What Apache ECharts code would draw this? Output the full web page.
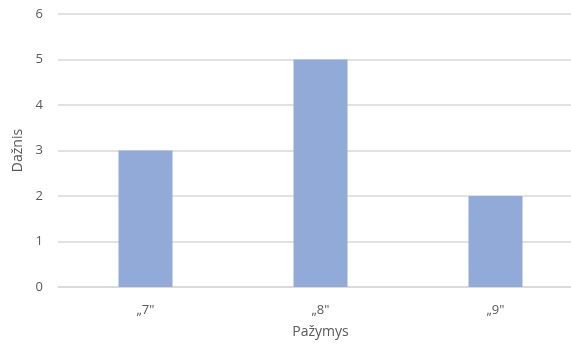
<!DOCTYPE html>
<html>
<head>
<meta charset="utf-8">
<style>
  html, body { margin: 0; padding: 0; background: #fff; }
  #chart { width: 571px; height: 346px; }
</style>
<script src="https://cdn.jsdelivr.net/npm/echarts@6/dist/echarts.min.js"></script>
</head>
<body>
<div id="chart"></div>
<script>
var categories = ['\u201E7"', '\u201E8"', '\u201E9"'];
var values = [3, 5, 2];

var chart = echarts.init(document.getElementById('chart'));
chart.setOption({
  animation: false,
  grid: { left: 58, top: 14, width: 525, height: 273, outerBoundsMode: 'none' },
  xAxis: {
    type: 'category',
    data: categories,
    name: 'Pažymys',
    nameLocation: 'middle',
    nameGap: 38,
    nameTextStyle: { color: '#595959', fontSize: 14, fontFamily: 'Open Sans' },
    axisLine: { lineStyle: { color: '#d9d9d9', width: 1.5 } },
    axisTick: { show: false },
    axisLabel: { color: '#595959', fontSize: 13, margin: 17, fontFamily: 'Open Sans' }
  },
  yAxis: {
    type: 'value',
    min: 0,
    max: 6,
    interval: 1,
    name: 'Dažnis',
    nameLocation: 'middle',
    nameGap: 32,
    nameTextStyle: { color: '#595959', fontSize: 14, fontFamily: 'Open Sans' },
    axisLabel: { color: '#595959', fontSize: 13, margin: 15, fontFamily: 'Open Sans' },
    splitLine: { lineStyle: { color: '#d9d9d9', width: 1.5 } }
  },
  series: [{
    type: 'bar',
    data: values,
    barWidth: 54,
    itemStyle: { color: '#91aad8' }
  }]
});
</script>
</body>
</html>
